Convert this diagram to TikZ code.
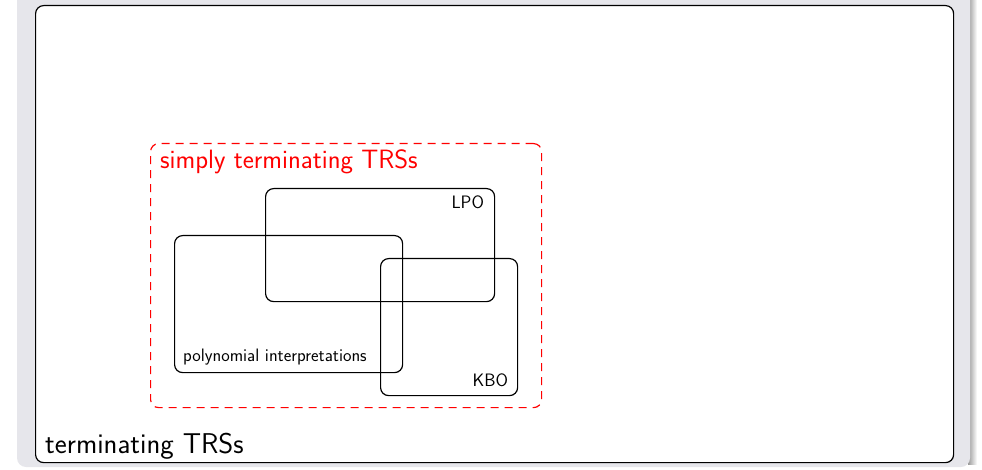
\documentclass[tikz,border=0pt]{standalone}
\begin{document}
\begin{tikzpicture}[x=1pt,y=-1pt,
  box/.style={draw=black, line width=1.2pt, rounded corners=8pt, anchor=north west, inner sep=0pt},
  redbox/.style={draw=red, line width=1.2pt, dash pattern=on 8pt off 6pt, rounded corners=8pt, anchor=north west, inner sep=0pt},
  normaltext/.style={font=\sffamily\fontsize{28.6}{33}\selectfont, inner sep=0pt},
  redtext/.style={font=\sffamily\fontsize{26.5}{30}\selectfont, text=red, inner sep=0pt},
  smalltext/.style={font=\sffamily\fontsize{18}{21}\selectfont, inner sep=0pt}]
\useasboundingbox (0,0) rectangle (982,470);
\definecolor{panel}{RGB}{230,230,235}
\shade[left color=black!40, right color=white] (968,-10) rectangle (977,464);
\fill[panel, rounded corners=9pt] (17,-20) rectangle (970,467);
\node[box, fill=white, minimum width=918pt, minimum height=457pt] (outer) at (35,5) {};
\node[redbox, minimum width=391pt, minimum height=264pt] (simple) at (150,143) {};
\node[box, minimum width=229pt, minimum height=113pt] (lpo) at (265,188) {};
\node[box, minimum width=228pt, minimum height=137pt] (poly) at (174,235) {};
\node[box, minimum width=137pt, minimum height=137pt] (kbo) at (380,258) {};
\node[normaltext, anchor=base west] (tlabel) at ([shift={(10,-10)}]outer.south west) {terminating TRSs};
\node[redtext, anchor=base west] (slabel) at ([shift={(10,26)}]simple.north west) {simply terminating TRSs};
\node[smalltext, anchor=base east] (lpolabel) at ([shift={(-11,21)}]lpo.north east) {LPO};
\node[smalltext, anchor=base east] (kbolabel) at ([shift={(-10,-10)}]kbo.south east) {KBO};
\node[smalltext, anchor=base west] (polylabel) at ([shift={(9,-12)}]poly.south west) {polynomial interpretations};
\end{tikzpicture}
\end{document}
